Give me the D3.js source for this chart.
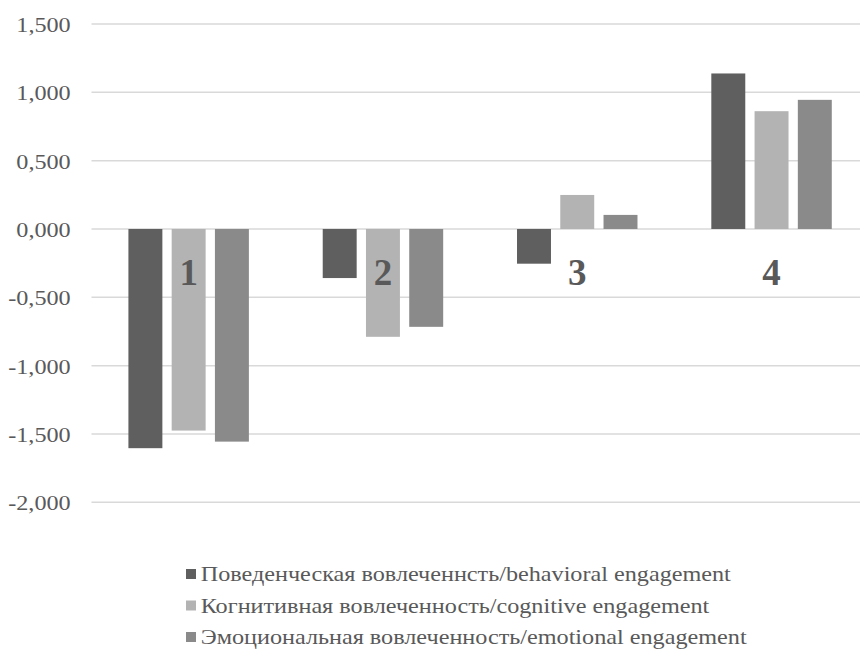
<!DOCTYPE html>
<html>
<head>
<meta charset="utf-8">
<script src="https://cdn.jsdelivr.net/npm/d3@7"></script>
<style>
  html, body { margin: 0; padding: 0; background: #fff; }
  svg { display: block; }
  svg text { font-family: "Liberation Serif", "Times New Roman", Times, serif; }
</style>
</head>
<body>
<svg id="chart" width="860" height="649"></svg>
<script>
// Cluster groups and engagement scores
const groups = ["1", "2", "3", "4"];
const seriesNames = [
  "Поведенческая вовлеченнсть/behavioral engagement",
  "Когнитивная вовлеченность/cognitive engagement",
  "Эмоциональная вовлеченность/emotional engagement"
];
const behavioral = [-1.604, -0.359, -0.254, 1.138];
const cognitive  = [-1.475, -0.789,  0.249, 0.862];
const emotional  = [-1.556, -0.716,  0.103, 0.945];
const yTicks = [-2, -1.5, -1, -0.5, 0, 0.5, 1, 1.5];
const colors = ["#5f5f5f", "#b3b3b3", "#8a8a8a"];

const seriesValues = [behavioral, cognitive, emotional];
const rows = groups.map((g, i) => ({
  group: g,
  values: seriesValues.map((vals, s) => ({ series: s, value: vals[i] }))
}));

const svg = d3.select("#chart");
const margin = { left: 91.5, top: 24, bottom: 502.3 };
const plotWidth = 777.2;
const textStretch = 1.1; // slightly widened text, as in the office-style export

const x = d3.scaleBand().domain(groups).range([margin.left, margin.left + plotWidth]).paddingInner(0.38).paddingOuter(0.19);
const xInner = d3.scaleBand().domain(d3.range(3)).range([0, x.bandwidth()]).paddingInner(0.215).paddingOuter(0);
const y = d3.scaleLinear().domain([-2, 1.5]).range([margin.bottom, margin.top]);

const fmt = v => d3.format(".3f")(v).replace(".", ",").replace("−", "-");

// Horizontal gridlines
svg.append("g").selectAll("line").data(yTicks).join("line")
  .attr("x1", margin.left).attr("x2", margin.left + plotWidth)
  .attr("y1", d => y(d)).attr("y2", d => y(d))
  .attr("stroke", "#d9d9d9").attr("stroke-width", 1.5);

// Y axis labels
const yAxis = d3.axisLeft(y).tickValues(yTicks).tickFormat(fmt).tickSize(0).tickPadding(0);
const gy = svg.append("g").attr("transform", "translate(70.7,0)").call(yAxis);
gy.select(".domain").remove();
gy.attr("font-family", null).attr("font-size", null);
gy.selectAll("text")
  .attr("x", 0)
  .attr("transform", `scale(${textStretch},1)`)
  .style("font-size", "22px").attr("fill", "#595959")
  .attr("dy", "0.34em");

// Bars
const g = svg.append("g").selectAll("g").data(rows).join("g")
  .attr("transform", d => `translate(${x(d.group)},0)`);
g.selectAll("rect").data(d => d.values).join("rect")
  .attr("x", d => xInner(d.series))
  .attr("width", xInner.bandwidth())
  .attr("y", d => y(Math.max(0, d.value)))
  .attr("height", d => Math.abs(y(d.value) - y(0)))
  .attr("fill", d => colors[d.series]);

// Group numbers
svg.append("g").selectAll("text").data(groups).join("text")
  .attr("x", d => x(d) + x.bandwidth() / 2)
  .attr("y", 285)
  .attr("text-anchor", "middle")
  .style("font-weight", "bold")
  .style("font-size", "37px")
  .attr("fill", "#595959")
  .text(d => d);

// Legend
const legend = svg.append("g").selectAll("g").data(seriesNames).join("g")
  .attr("transform", (d, i) => `translate(186,${581 + i * 31.5})`);
legend.append("rect")
  .attr("x", 0).attr("y", -12).attr("width", 10).attr("height", 10)
  .attr("fill", (d, i) => colors[i]);
legend.append("text")
  .attr("transform", `translate(14.7,0) scale(${textStretch},1)`)
  .style("font-size", "22px").attr("fill", "#595959")
  .text(d => d);
</script>
</body>
</html>
